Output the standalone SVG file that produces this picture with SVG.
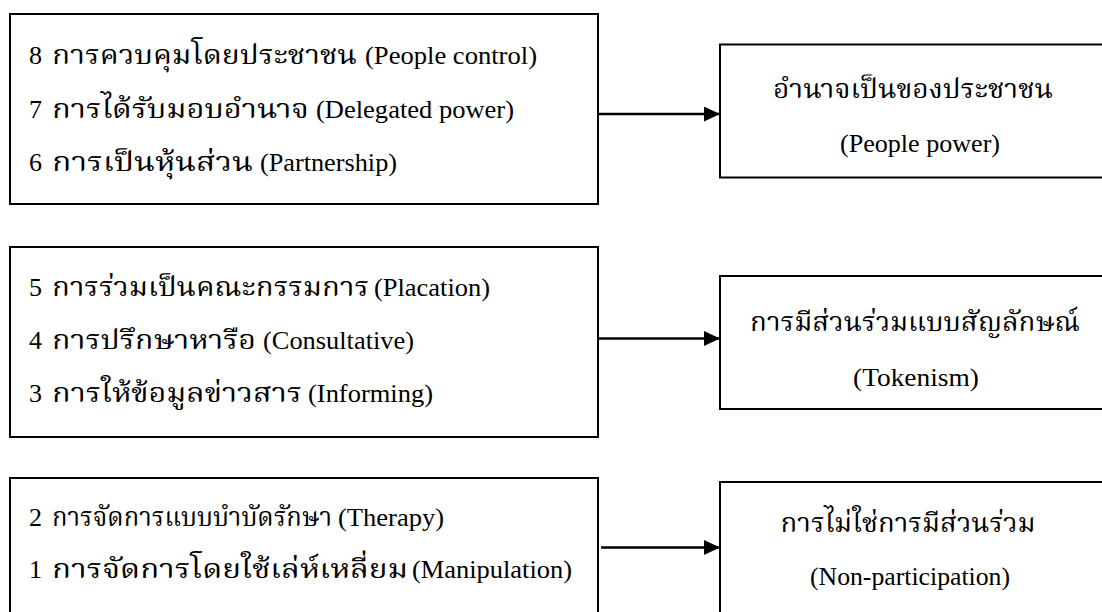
<svg xmlns="http://www.w3.org/2000/svg" width="1102" height="612" viewBox="0 0 1102 612">
  <style>
    .box{fill:#fff;stroke:#000;stroke-width:2}
    .t{font-family:"Liberation Serif","Noto Serif Thai","Noto Sans Thai","DejaVu Serif",serif;font-size:25px;fill:#000}
    .th{font-size:26px}
    .r{text-anchor:middle}
    .rth{font-size:27px}
    .ren{font-size:25px}
    .conn{stroke:#000;stroke-width:2.5;fill:none}
  </style>
  <defs>
    <marker id="ah" markerUnits="userSpaceOnUse" markerWidth="16" markerHeight="15" refX="16" refY="7.5" orient="auto">
      <path d="M0,0 L16,7.5 L0,15 Z" fill="#000"/>
    </marker>
  </defs>
  <rect x="0" y="0" width="1102" height="612" fill="#fff"/>

  <g id="levels-6-8">
    <rect class="box" x="10" y="14" width="588" height="190"/>
    <text class="t" x="29" y="64" textLength="13" lengthAdjust="spacingAndGlyphs">8</text>
    <text class="t th" x="52" y="64" textLength="305" lengthAdjust="spacingAndGlyphs">การควบคุมโดยประชาชน</text>
    <text class="t" x="365" y="64" textLength="172" lengthAdjust="spacingAndGlyphs">(People control)</text>
    <text class="t" x="29" y="118" textLength="13" lengthAdjust="spacingAndGlyphs">7</text>
    <text class="t th" x="52" y="118" textLength="257" lengthAdjust="spacingAndGlyphs">การได้รับมอบอำนาจ</text>
    <text class="t" x="316" y="118" textLength="198" lengthAdjust="spacingAndGlyphs">(Delegated power)</text>
    <text class="t" x="29" y="171" textLength="13" lengthAdjust="spacingAndGlyphs">6</text>
    <text class="t th" x="52" y="171" textLength="201" lengthAdjust="spacingAndGlyphs">การเป็นหุ้นส่วน</text>
    <text class="t" x="260" y="171" textLength="137" lengthAdjust="spacingAndGlyphs">(Partnership)</text>
  </g>

  <g id="levels-3-5">
    <rect class="box" x="10" y="247" width="588" height="190"/>
    <text class="t" x="29" y="296" textLength="13" lengthAdjust="spacingAndGlyphs">5</text>
    <text class="t th" x="52" y="296" textLength="317" lengthAdjust="spacingAndGlyphs">การร่วมเป็นคณะกรรมการ</text>
    <text class="t" x="374" y="296" textLength="116" lengthAdjust="spacingAndGlyphs">(Placation)</text>
    <text class="t" x="29" y="349" textLength="13" lengthAdjust="spacingAndGlyphs">4</text>
    <text class="t th" x="52" y="349" textLength="204" lengthAdjust="spacingAndGlyphs">การปรึกษาหารือ</text>
    <text class="t" x="263" y="349" textLength="151" lengthAdjust="spacingAndGlyphs">(Consultative)</text>
    <text class="t" x="29" y="402" textLength="13" lengthAdjust="spacingAndGlyphs">3</text>
    <text class="t th" x="52" y="402" textLength="250" lengthAdjust="spacingAndGlyphs">การให้ข้อมูลข่าวสาร</text>
    <text class="t" x="308" y="402" textLength="125" lengthAdjust="spacingAndGlyphs">(Informing)</text>
  </g>

  <g id="levels-1-2">
    <rect class="box" x="10" y="478" width="588" height="160"/>
    <text class="t" x="29" y="526" textLength="13" lengthAdjust="spacingAndGlyphs">2</text>
    <text class="t th" x="52" y="526" textLength="280" lengthAdjust="spacingAndGlyphs">การจัดการแบบบำบัดรักษา</text>
    <text class="t" x="338" y="526" textLength="106" lengthAdjust="spacingAndGlyphs">(Therapy)</text>
    <text class="t" x="29" y="578" textLength="13" lengthAdjust="spacingAndGlyphs">1</text>
    <text class="t th" x="52" y="578" textLength="356" lengthAdjust="spacingAndGlyphs">การจัดการโดยใช้เล่ห์เหลี่ยม</text>
    <text class="t" x="412" y="578" textLength="160" lengthAdjust="spacingAndGlyphs">(Manipulation)</text>
  </g>

  <g id="people-power">
    <rect class="box" x="720" y="44.5" width="396" height="133"/>
    <text class="t rth r" x="913" y="98" textLength="280" lengthAdjust="spacingAndGlyphs">อำนาจเป็นของประชาชน</text>
    <text class="t ren r" x="920" y="152" textLength="160" lengthAdjust="spacingAndGlyphs">(People power)</text>
  </g>

  <g id="tokenism">
    <rect class="box" x="720" y="276" width="396" height="133"/>
    <text class="t rth r" x="915" y="331" textLength="330" lengthAdjust="spacingAndGlyphs">การมีส่วนร่วมแบบสัญลักษณ์</text>
    <text class="t ren r" x="916" y="386" textLength="126" lengthAdjust="spacingAndGlyphs">(Tokenism)</text>
  </g>

  <g id="non-participation">
    <rect class="box" x="720" y="482" width="396" height="160"/>
    <text class="t rth r" x="908" y="532" textLength="255" lengthAdjust="spacingAndGlyphs">การไม่ใช่การมีส่วนร่วม</text>
    <text class="t ren r" x="910" y="585" textLength="200" lengthAdjust="spacingAndGlyphs">(Non-participation)</text>
  </g>

  <g id="connectors">
    <line class="conn" x1="598" y1="114" x2="720" y2="114" marker-end="url(#ah)"/>
    <line class="conn" x1="598" y1="338.5" x2="720" y2="338.5" marker-end="url(#ah)"/>
    <line class="conn" x1="601" y1="547.5" x2="720" y2="547.5" marker-end="url(#ah)"/>
  </g>
</svg>
